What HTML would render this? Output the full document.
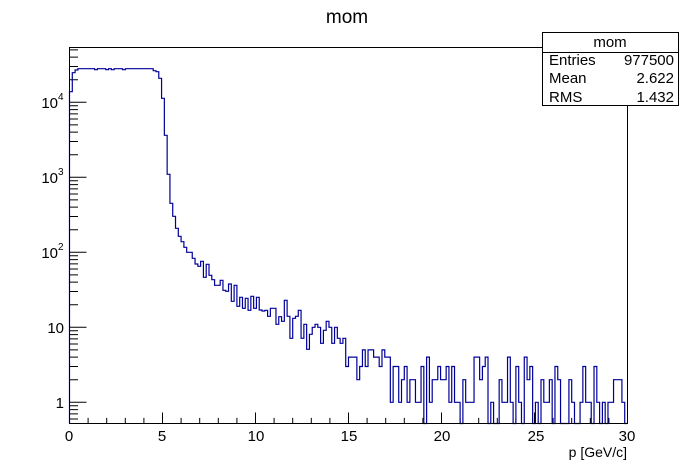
<!DOCTYPE html>
<html><head><meta charset="utf-8"><style>
html,body{margin:0;padding:0;background:#fff;}
svg{display:block;}
text{font-family:"Liberation Sans",sans-serif;}
</style></head><body>
<svg id="s" width="696" height="472" xmlns="http://www.w3.org/2000/svg">
<rect width="696" height="472" fill="#fff"/>
<text x="347" y="23" font-size="19" text-anchor="middle">mom</text>
<g id="ax" stroke="#000" stroke-width="1" fill="none"></g>
<path id="h" fill="none" stroke="#000099" stroke-width="1.2"/>
<rect x="69.5" y="47.5" width="558" height="376" fill="none" stroke="#000" stroke-width="1"/>
<g font-size="15">
<text x="69" y="441" text-anchor="middle">0</text>
<text x="162" y="441" text-anchor="middle">5</text>
<text x="256" y="441" text-anchor="middle">10</text>
<text x="349" y="441" text-anchor="middle">15</text>
<text x="442" y="441" text-anchor="middle">20</text>
<text x="536" y="441" text-anchor="middle">25</text>
<text x="627" y="441" text-anchor="middle">30</text>
<text x="64" y="408" text-anchor="end">1</text>
<text x="64" y="333" text-anchor="end">10</text>
<text x="58" y="258" text-anchor="end">10</text><text x="58" y="250" font-size="10">2</text>
<text x="58" y="183" text-anchor="end">10</text><text x="58" y="175" font-size="10">3</text>
<text x="58" y="108" text-anchor="end">10</text><text x="58" y="100" font-size="10">4</text>
</g>
<text x="627" y="457" font-size="14" text-anchor="end">p [GeV/c]</text>
<rect x="542.5" y="32.5" width="136" height="73" fill="#fff" stroke="#000" stroke-width="1"/>
<line x1="542.5" y1="52.5" x2="678.5" y2="52.5" stroke="#000"/>
<g font-size="15">
<text x="610" y="47" text-anchor="middle">mom</text>
<text x="549" y="65">Entries</text><text x="674" y="65" text-anchor="end">977500</text>
<text x="549" y="83">Mean</text><text x="674" y="83" text-anchor="end">2.622</text>
<text x="549" y="102">RMS</text><text x="674" y="102" text-anchor="end">1.432</text>
</g>
</svg>
<script>
var X0=69.5,X1=627.5,YB=423.5;
function xp(v){return X0+(X1-X0)*v/30;}
function yp(v){return 402.3-75*Math.log10(v);}
var ax=document.getElementById('ax'),d='';
for(var i=0;i<=30;i++){var x=xp(i);d+='M'+x+' '+YB+'V'+(YB-(i%5==0?11:5.6));}
for(var e=-1;e<=4;e++){for(var k=1;k<=9;k++){var v=k*Math.pow(10,e);if(v<0.52||v>54000)continue;var y=yp(v);d+='M'+X0+' '+y+'H'+(X0+(k==1?17:8.5));}}
ax.innerHTML='<path d="'+d+'"/>';
var py=[91.7,72.7,70];
for(var i=3;i<30;i++){py.push((i==9||i==13||i==15||i==19)?69.7:68.7);}
py=py.concat([70.7,71.7,78.3,98.3,135.3,174.3,203.3,216.3,228.3,236.3,241.7,247.3,252.3,252.3,258.3,264,266.3,261.3,277.3,264.3,275.3,279.7,285.3,285.3,280.3,290.3,291.3,284,301.3,285.3,306.3,297.3,308.3,298.3,310.3,296.3,308.3,297.3,310,311,310.3,316.3,308.3,308.3,324.3,316.7,321.3,300.3,316.3,338.3,318.3,316.3,310.3,338.3,324.3,349.3,334.3,327.3,324.3,327.3,343.3,330.3,321.3,327.3,343.3,327.3,338.3,343.3,338.3]);
var c=[3,4,4,4,2,3,5,3,5,5,4,4,3,5,4,4,1,3,3,1,2,3,1,2,2,1,1,3,0,4,1,2,2,3,2,2,3,1,3,1,1,0,2,1,1,1,4,4,2,3,4,0,1,0,0,2,1,1,4,1,0,3,1,0,4,2,3,0,1,0,2,1,1,2,0,3,2,0,0,0,2,1,0,0,1,3,1,1,0,3,1,0,1,0,1,1,2,2,2,1,0];
for(var j=0;j<c.length&&py.length<200;j++){py.push(c[j]>0?yp(c[j]):YB);}
while(py.length<200)py.push(YB);
var bw=(X1-X0)/200,p='M'+X0+' '+YB;
for(var i=0;i<200;i++){p+='V'+py[i].toFixed(1)+'H'+(X0+(i+1)*bw).toFixed(2);}
document.getElementById('h').setAttribute('d',p);
</script>
</body></html>
